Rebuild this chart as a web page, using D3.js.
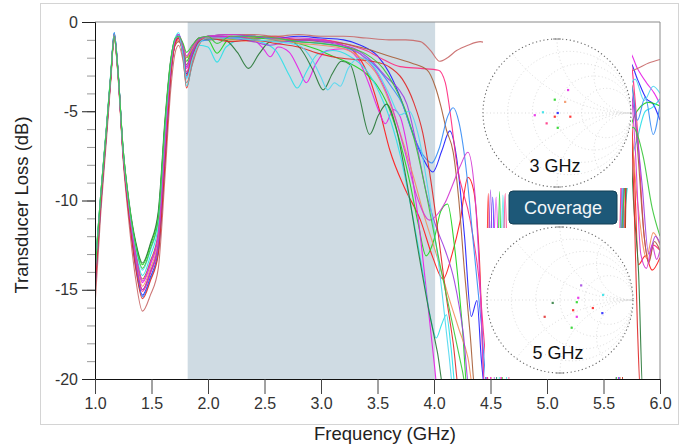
<!DOCTYPE html>
<html>
<head>
<meta charset="utf-8">
<script src="https://cdn.jsdelivr.net/npm/d3@7"></script>
<style>
body { margin: 0; background: #fff; }
text { font-family: "Liberation Sans", Arial, sans-serif; }
</style>
</head>
<body>
<script>
var width = 694,
    height = 447;

// ---- data ----
var xTicks = [1.0, 1.5, 2.0, 2.5, 3.0, 3.5, 4.0, 4.5, 5.0, 5.5, 6.0];
var yTicks = [0, -5, -10, -15, -20];
var coverageBand = [1.82, 4.01]; // GHz
var insetLabels = ["3 GHz", "5 GHz"];
var buttonLabel = "Coverage";

var seriesColors = ["#ff1a1a", "#2020ff", "#1ed41e", "#e61ee6", "#2ee0e8", "#2a7a3a", "#c96a6a", "#ff2b80",
                    "#a8603a", "#3a8ef5", "#f29060", "#a040e0", "#e02828", "#d43ad4", "#52d8f0", "#3cc83c"];

// shared frequency grid for the 1.0 - 1.92 GHz part
var lowFreqs = [1.0, 1.05, 1.1, 1.14, 1.17, 1.2, 1.25, 1.3, 1.36, 1.42, 1.49, 1.56, 1.62, 1.67, 1.71, 1.74, 1.78, 1.81, 1.86, 1.92];

var lowBand = [
  [-14.6, -10.1, -6.2, -3.0, -0.8, -2.6, -7.5, -10.6, -13.4, -15.0, -14.0, -12.5, -7.2, -2.9, -1.2, -0.9, -2.0, -3.7, -2.3, -1.2],
  [-15.2, -10.4, -6.4, -3.1, -0.6, -2.4, -7.4, -10.6, -13.6, -15.3, -14.3, -12.8, -7.6, -3.0, -1.1, -0.7, -1.6, -2.9, -1.8, -1.0],
  [-13.9, -9.7, -6.0, -2.9, -0.8, -2.5, -7.2, -10.1, -12.4, -13.6, -12.5, -10.8, -5.6, -2.2, -1.0, -0.8, -1.4, -2.2, -1.5, -0.9],
  [-14.4, -10.0, -6.1, -3.0, -0.7, -2.5, -7.4, -10.4, -13.1, -14.6, -13.6, -12.0, -6.8, -2.7, -1.2, -1.0, -1.7, -2.6, -1.7, -1.0],
  [-14.0, -9.8, -6.0, -2.8, -0.6, -2.4, -7.3, -10.3, -12.8, -14.2, -13.1, -11.4, -6.2, -2.4, -0.9, -0.6, -1.9, -3.6, -2.4, -1.3],
  [-13.8, -9.7, -6.1, -3.0, -0.9, -2.6, -7.2, -10.0, -12.3, -13.5, -12.4, -10.6, -5.4, -2.1, -1.0, -0.9, -1.3, -2.0, -1.4, -0.9],
  [-15.9, -10.8, -6.7, -3.3, -0.9, -2.7, -7.8, -11.2, -14.4, -16.2, -15.3, -13.8, -8.6, -3.8, -1.7, -1.3, -2.2, -3.4, -2.4, -1.3],
  [-14.8, -10.2, -6.3, -3.0, -0.7, -2.5, -7.5, -10.6, -13.5, -15.1, -14.1, -12.6, -7.4, -2.9, -1.1, -0.9, -1.8, -2.8, -1.9, -1.1],
  [-14.3, -9.9, -6.1, -3.0, -0.8, -2.5, -7.4, -10.4, -13.0, -14.4, -13.4, -11.8, -6.6, -2.7, -1.3, -1.1, -1.6, -2.4, -1.6, -1.0],
  [-14.9, -10.3, -6.3, -3.0, -0.6, -2.4, -7.5, -10.7, -13.7, -15.4, -14.4, -12.9, -7.7, -3.0, -1.0, -0.7, -1.8, -3.1, -2.0, -1.1],
  [-14.5, -10.0, -6.2, -3.1, -0.9, -2.7, -7.5, -10.5, -13.2, -14.8, -13.8, -12.2, -7.0, -2.8, -1.2, -1.0, -1.4, -2.0, -1.5, -1.0],
  [-14.7, -10.1, -6.2, -3.0, -0.7, -2.5, -7.5, -10.6, -13.4, -15.0, -14.0, -12.4, -7.2, -2.8, -1.1, -0.8, -1.6, -2.5, -1.7, -1.0],
  [-15.0, -10.3, -6.3, -3.1, -0.7, -2.5, -7.6, -10.8, -13.8, -15.5, -14.5, -13.0, -7.9, -3.1, -1.2, -0.9, -1.9, -3.0, -2.0, -1.1],
  [-14.2, -9.9, -6.1, -3.0, -0.8, -2.6, -7.4, -10.4, -13.0, -14.5, -13.5, -11.9, -6.7, -2.6, -1.0, -0.7, -1.3, -1.9, -1.4, -0.9],
  [-13.9, -9.7, -6.0, -2.9, -0.7, -2.5, -7.3, -10.2, -12.6, -13.9, -12.8, -11.1, -5.9, -2.3, -0.9, -0.8, -1.9, -3.2, -2.1, -1.2],
  [-14.1, -9.8, -6.1, -2.9, -0.8, -2.5, -7.2, -10.1, -12.5, -13.8, -12.7, -11.0, -5.7, -2.2, -0.9, -0.8, -1.2, -1.7, -1.3, -0.9]
];

// [GHz, dB] from 2.0 GHz on (values under -20 run off the plot)
var highBand = [
  [[2.0,-0.9],[2.2,-0.8],[2.4,-0.9],[2.6,-0.8],[2.8,-1.0],[3.0,-1.0],[3.15,-1.2],[3.3,-1.7],[3.42,-3.0],[3.52,-5.0],[3.61,-7.2],[3.74,-9.3],[3.88,-11.1],[3.99,-13.2],[4.08,-14.4],[4.16,-13.0],[4.23,-11.2],[4.3,-8.7],[4.35,-9.4],[4.4,-13],[4.45,-20.5],[4.48,-9.6],[4.51,-21],[5.66,-21],[5.72,-3.8],[5.77,-8],[5.81,-13.6],[5.87,-13.1],[5.93,-13.9],[6.0,-13.2]],
  [[2.0,-0.8],[2.2,-0.7],[2.4,-0.8],[2.6,-0.9],[2.8,-0.8],[3.0,-0.9],[3.2,-1.0],[3.35,-1.3],[3.5,-1.9],[3.6,-2.8],[3.7,-4.2],[3.8,-6.0],[3.9,-7.6],[3.99,-8.4],[4.07,-7.2],[4.14,-6.1],[4.2,-7.6],[4.27,-12],[4.33,-16.5],[4.38,-15.6],[4.42,-19],[4.46,-21],[4.52,-9.8],[4.56,-21],[5.63,-21],[5.68,-6],[5.73,-2.2],[5.8,-3.2],[5.88,-4.3],[5.94,-4.6],[6.0,-5.5]],
  [[2.0,-1.0],[2.08,-1.75],[2.18,-1.0],[2.4,-0.9],[2.6,-1.0],[2.8,-1.2],[2.95,-1.5],[3.1,-1.9],[3.25,-2.3],[3.4,-2.9],[3.5,-3.6],[3.58,-4.5],[3.68,-6.3],[3.78,-8.8],[3.86,-11.3],[3.93,-13.1],[4.0,-12.2],[4.06,-10.6],[4.12,-10.2],[4.18,-12.5],[4.25,-17],[4.3,-21],[4.55,-21],[4.58,-9.5],[4.61,-21],[5.6,-21],[5.67,-9],[5.73,-6.2],[5.82,-4.8],[5.9,-4.5],[6.0,-4.7]],
  [[2.0,-0.9],[2.2,-0.8],[2.4,-1.0],[2.49,-1.5],[2.55,-1.95],[2.62,-1.4],[2.72,-1.7],[2.8,-2.6],[2.87,-3.4],[2.95,-2.4],[3.05,-1.6],[3.2,-1.5],[3.32,-2.0],[3.42,-3.4],[3.5,-4.8],[3.57,-5.7],[3.64,-4.9],[3.7,-5.3],[3.78,-7.6],[3.86,-11],[3.94,-15.5],[4.0,-19],[4.04,-21],[4.49,-21],[4.55,-9.8],[4.6,-21],[5.6,-21],[5.66,-10],[5.7,-3],[5.73,-1.7],[5.8,-2.6],[5.88,-3.4],[5.95,-4.0],[6.0,-4.6]],
  [[2.0,-1.4],[2.08,-2.25],[2.16,-1.4],[2.3,-1.0],[2.45,-1.1],[2.6,-1.6],[2.72,-3.0],[2.79,-3.7],[2.87,-2.8],[2.97,-1.8],[3.1,-1.6],[3.25,-1.9],[3.4,-2.7],[3.52,-4.0],[3.62,-5.6],[3.71,-7.7],[3.8,-10.5],[3.9,-14.0],[3.97,-16.6],[4.02,-17.7],[4.07,-16.9],[4.11,-16.4],[4.15,-18.2],[4.2,-21],[4.57,-21],[4.61,-9.7],[4.65,-21],[5.6,-21],[5.67,-12],[5.74,-8],[5.8,-6.5],[5.87,-5],[5.93,-4.8],[6.0,-4.3]],
  [[2.0,-0.9],[2.15,-1.0],[2.26,-1.7],[2.36,-2.6],[2.45,-1.8],[2.55,-1.1],[2.7,-1.0],[2.82,-1.5],[2.93,-2.7],[3.02,-3.8],[3.1,-2.9],[3.18,-2.2],[3.26,-2.4],[3.34,-4.2],[3.43,-6.3],[3.51,-5.2],[3.58,-4.6],[3.66,-5.8],[3.76,-9.0],[3.86,-12.8],[3.95,-16],[4.03,-18.5],[4.1,-21],[5.66,-21],[5.72,-5],[5.77,-10.5],[5.81,-14],[5.85,-21],[6.0,-21]],
  [[2.0,-0.8],[2.2,-0.7],[2.4,-0.7],[2.6,-0.8],[2.8,-0.7],[3.0,-0.8],[3.2,-0.8],[3.4,-0.9],[3.6,-1.0],[3.75,-1.0],[3.88,-1.1],[3.97,-1.6],[4.05,-2.2],[4.12,-2.0],[4.2,-1.6],[4.3,-1.3],[4.41,-1.1],[4.5,-1.3],[5.72,-2.8],[5.8,-2.6],[5.9,-2.3],[6.0,-2.1]],
  [[2.0,-0.8],[2.2,-0.9],[2.4,-0.8],[2.6,-0.9],[2.8,-1.0],[3.0,-1.0],[3.2,-1.2],[3.4,-1.6],[3.55,-2.1],[3.7,-2.5],[3.88,-2.6],[4.04,-2.7],[4.1,-3.4],[4.15,-5.4],[4.2,-7.9],[4.32,-11.1],[4.4,-14.5],[4.46,-19],[4.5,-21],[4.59,-21],[4.63,-9.6],[4.67,-21],[5.6,-21],[5.68,-4],[5.73,-2.0],[5.8,-6],[5.86,-12],[5.9,-13.4],[5.94,-12.5],[6.0,-12.8]],
  [[2.0,-1.0],[2.2,-0.9],[2.4,-1.0],[2.6,-1.1],[2.8,-1.0],[3.0,-1.1],[3.2,-1.2],[3.4,-1.5],[3.6,-1.9],[3.8,-2.3],[3.94,-2.7],[4.01,-3.6],[4.06,-4.7],[4.11,-6.05],[4.17,-7.3],[4.22,-10],[4.27,-14],[4.32,-17.5],[4.37,-21],[5.62,-21],[5.7,-6],[5.75,-3.5],[5.8,-7],[5.86,-12],[5.9,-13.5],[5.95,-12.3],[6.0,-12.8]],
  [[2.0,-1.0],[2.2,-0.9],[2.4,-0.8],[2.6,-1.0],[2.8,-1.1],[3.0,-1.2],[3.2,-1.4],[3.35,-1.8],[3.5,-2.6],[3.62,-3.6],[3.72,-4.6],[3.82,-6.4],[3.92,-7.6],[3.98,-7.9],[4.05,-7.0],[4.12,-5.3],[4.17,-4.8],[4.22,-5.6],[4.28,-8.0],[4.35,-12.5],[4.42,-17],[4.48,-21],[5.63,-21],[5.7,-5],[5.74,-3.4],[5.8,-5.5],[5.87,-4.2],[5.94,-6.3],[6.0,-4.6]],
  [[2.0,-0.9],[2.2,-1.0],[2.4,-1.1],[2.6,-1.0],[2.8,-1.2],[3.0,-1.3],[3.2,-1.5],[3.35,-2.0],[3.5,-3.0],[3.6,-4.4],[3.72,-6.6],[3.82,-8.7],[3.92,-11],[4.02,-13],[4.12,-15.2],[4.22,-17.2],[4.3,-18.8],[4.36,-21],[5.64,-21],[5.72,-5],[5.8,-10],[5.88,-13.2],[5.94,-11.8],[6.0,-12.5]],
  [[2.0,-0.8],[2.2,-0.9],[2.4,-1.1],[2.55,-1.3],[2.7,-1.1],[2.9,-1.0],[3.1,-1.2],[3.3,-1.5],[3.45,-2.2],[3.58,-3.1],[3.68,-3.7],[3.76,-4.6],[3.85,-7],[3.94,-9.8],[4.02,-11.5],[4.1,-12.8],[4.18,-14.5],[4.26,-17.5],[4.32,-21],[4.46,-21],[4.5,-9.4],[4.54,-21],[5.62,-21],[5.7,-3],[5.76,-4.5],[5.84,-9],[5.9,-13],[5.96,-12],[6.0,-12.4]],
  [[2.0,-0.9],[2.2,-1.1],[2.4,-1.0],[2.6,-1.2],[2.8,-1.4],[3.0,-1.8],[3.15,-2.0],[3.3,-2.1],[3.45,-2.2],[3.6,-2.5],[3.72,-3.2],[3.82,-4.5],[3.9,-6.2],[3.97,-8.8],[4.04,-12],[4.1,-15],[4.17,-18],[4.23,-21],[5.66,-21],[5.72,-3],[5.77,-10],[5.8,-17],[5.83,-21],[6.0,-21]],
  [[2.0,-0.8],[2.2,-0.7],[2.4,-0.8],[2.6,-0.9],[2.8,-0.9],[3.0,-1.0],[3.2,-1.3],[3.35,-1.8],[3.5,-2.9],[3.62,-4.6],[3.74,-7.2],[3.85,-9.8],[3.96,-11.1],[4.04,-10.7],[4.1,-10.1],[4.16,-9.2],[4.23,-8.1],[4.3,-7.3],[4.36,-9.5],[4.41,-15],[4.45,-21],[5.62,-21],[5.68,-8],[5.73,-3.2],[5.78,-7],[5.83,-13],[5.88,-13.8],[5.93,-12.5],[5.97,-13.3],[6.0,-12.8]],
  [[2.0,-0.9],[2.2,-0.9],[2.4,-1.0],[2.6,-1.1],[2.8,-1.3],[2.93,-2.2],[3.0,-3.1],[3.06,-3.8],[3.12,-3.4],[3.17,-3.6],[3.24,-2.6],[3.35,-2.0],[3.48,-2.6],[3.6,-4.0],[3.7,-5.2],[3.78,-5.0],[3.86,-6.3],[3.95,-9.5],[4.05,-14],[4.13,-18.5],[4.18,-21],[5.6,-21],[5.66,-10.5],[5.72,-4],[5.78,-3.2],[5.86,-4.4],[5.94,-3.6],[6.0,-4.0]],
  [[2.0,-0.8],[2.08,-1.2],[2.2,-0.8],[2.4,-0.8],[2.6,-0.9],[2.8,-1.1],[3.0,-1.2],[3.2,-1.4],[3.4,-1.8],[3.55,-2.6],[3.65,-3.6],[3.75,-5.0],[3.85,-7.2],[3.95,-10.2],[4.05,-13.5],[4.15,-16.5],[4.25,-19.5],[4.3,-21],[5.6,-21],[5.66,-12],[5.72,-7],[5.76,-5.9],[5.85,-7.5],[5.93,-10.4],[6.0,-12]]
];

// Smith chart markers: [re, im, colour index]
var smith3Points = [[0.15,0.31,3],[-0.03,0.18,2],[0.11,0.15,10],[-0.19,0.01,4],[-0.30,-0.03,3],[0.01,0.0,1],
                    [-0.03,-0.05,0],[0.18,-0.05,0],[-0.14,-0.14,7],[0.01,-0.20,2]];
var smith5Points = [[0.25,0.03,3],[0.23,-0.03,2],[-0.10,-0.04,5],[0.59,0.07,4],[0.18,-0.14,0],[0.45,-0.11,0],
                    [0.23,-0.23,3],[0.16,-0.38,2],[-0.21,-0.23,12],[0.58,-0.18,1],[0.29,0.20,11]];

// ---- layout ----
var x = d3.scaleLinear().domain([1, 6]).range([95, 660]);
var y = d3.scaleLinear().domain([-20, 0]).range([379, 22]);

var svg = d3.select("body")
  .append("svg")
  .attr("width", width)
  .attr("height", height);

// outer frame
svg.append("rect")
  .attr("x", 40.5).attr("y", 3.5)
  .attr("width", 638).attr("height", 421)
  .attr("fill", "none")
  .attr("stroke", "#d4d4d4");

svg.append("defs").append("clipPath")
    .attr("id", "plotclip")
  .append("rect")
    .attr("x", 95).attr("y", 22)
    .attr("width", 565).attr("height", 357);

// coverage band
svg.append("rect")
  .attr("x", x(coverageBand[0]))
  .attr("y", y(0))
  .attr("width", x(coverageBand[1]) - x(coverageBand[0]))
  .attr("height", y(-20) - y(0))
  .attr("fill", "#cfdbe3");

var series = lowBand.map(function(row, k) {
  return lowFreqs.map(function(f, i) { return [f, row[i]]; }).concat(highBand[k]);
});

var line = d3.line()
  .x(function(d) { return x(d[0]); })
  .y(function(d) { return y(d[1]); })
  .curve(d3.curveMonotoneX);

svg.append("g")
    .attr("clip-path", "url(#plotclip)")
  .selectAll("path")
  .data(series)
  .enter().append("path")
    .attr("d", line)
    .attr("fill", "none")
    .attr("stroke", function(d, i) { return seriesColors[i]; })
    .attr("stroke-width", 1.1)
    .attr("stroke-opacity", 0.92);

// white inset boxes over the curves
var insets = [
  {box: [483, 24, 149, 164], cx: 557, cy: 113, r: 74, pts: smith3Points, label: insetLabels[0], ly: 172},
  {box: [485, 228, 147, 149], cx: 560, cy: 300, r: 73, pts: smith5Points, label: insetLabels[1], ly: 359}
];

insets.forEach(function(ins, n) {
  svg.append("rect")
    .attr("x", ins.box[0]).attr("y", ins.box[1])
    .attr("width", ins.box[2]).attr("height", ins.box[3])
    .attr("fill", "#fff");

  var sx = d3.scaleLinear().domain([-1, 1]).range([ins.cx - ins.r, ins.cx + ins.r]);
  var sy = d3.scaleLinear().domain([-1, 1]).range([ins.cy + ins.r, ins.cy - ins.r]);
  var k = ins.r;

  svg.select("defs").append("clipPath")
      .attr("id", "smith" + n)
    .append("circle")
      .attr("cx", ins.cx).attr("cy", ins.cy).attr("r", ins.r);

  var g = svg.append("g").attr("clip-path", "url(#smith" + n + ")");

  // constant resistance circles
  [0.2, 0.5, 1, 2].forEach(function(rr) {
    g.append("circle")
      .attr("cx", sx(rr / (1 + rr))).attr("cy", sy(0))
      .attr("r", k / (1 + rr))
      .attr("fill", "none").attr("stroke", "#d2d2d2")
      .attr("stroke-width", 0.8).attr("stroke-dasharray", "1 2.5");
  });
  // constant reactance arcs
  [0.5, 1, 2, -0.5, -1, -2].forEach(function(xx) {
    g.append("circle")
      .attr("cx", sx(1)).attr("cy", sy(1 / xx))
      .attr("r", k / Math.abs(xx))
      .attr("fill", "none").attr("stroke", "#d2d2d2")
      .attr("stroke-width", 0.8).attr("stroke-dasharray", "1 2.5");
  });
  g.append("line")
    .attr("x1", sx(-1)).attr("x2", sx(1))
    .attr("y1", sy(0)).attr("y2", sy(0))
    .attr("stroke", "#d2d2d2").attr("stroke-width", 0.8)
    .attr("stroke-dasharray", "1 2.5");

  // outer rim
  svg.append("circle")
    .attr("cx", ins.cx).attr("cy", ins.cy).attr("r", ins.r)
    .attr("fill", "none").attr("stroke", "#666")
    .attr("stroke-width", 1.1).attr("stroke-dasharray", "1.2 2.6");

  // small marks top and bottom
  [-1, 1].forEach(function(s) {
    svg.append("line")
      .attr("x1", ins.cx - 4).attr("x2", ins.cx + 4)
      .attr("y1", ins.cy + s * ins.r).attr("y2", ins.cy + s * ins.r)
      .attr("stroke", "#888").attr("stroke-width", 1);
  });

  svg.append("g").selectAll("rect")
    .data(ins.pts)
    .enter().append("rect")
      .attr("x", function(d) { return sx(d[0]) - 1.1; })
      .attr("y", function(d) { return sy(d[1]) - 1.1; })
      .attr("width", 2.2).attr("height", 2.2)
      .attr("fill", function(d) { return seriesColors[d[2]]; })
      .attr("fill-opacity", 0.85);

  svg.append("text")
    .attr("x", ins.cx - 2).attr("y", ins.ly)
    .attr("text-anchor", "middle")
    .attr("font-size", 18)
    .attr("fill", "#111")
    .text(ins.label);
});

// coverage button
svg.append("rect")
  .attr("x", 509).attr("y", 191)
  .attr("width", 108).attr("height", 33)
  .attr("rx", 4)
  .attr("fill", "#1d5878")
  .attr("stroke", "#123e55");
svg.append("text")
  .attr("x", 563).attr("y", 214)
  .attr("text-anchor", "middle")
  .attr("font-size", 18)
  .attr("fill", "#f2f6f8")
  .text(buttonLabel);

// plot border top / right
svg.append("line")
  .attr("x1", 95).attr("x2", 660).attr("y1", 22).attr("y2", 22)
  .attr("stroke", "#8a8a8a");
svg.append("line")
  .attr("x1", 660).attr("x2", 660).attr("y1", 22).attr("y2", 379)
  .attr("stroke", "#8a8a8a");

// axes
var yMinor = svg.append("g")
  .attr("transform", "translate(95,0)")
  .call(d3.axisLeft(y).tickValues(d3.range(-20, 1, 1)).tickSize(8).tickFormat(""));
yMinor.select(".domain").remove();
yMinor.selectAll("line").attr("stroke", "#9a9a9a");

var yAxis = svg.append("g")
  .attr("transform", "translate(95,0)")
  .call(d3.axisLeft(y).tickValues(yTicks).tickSize(13).tickPadding(4)
    .tickFormat(function(d) { return String(d); }));
yAxis.select(".domain").attr("stroke", "#111");
yAxis.selectAll("line").attr("stroke", "#222");
yAxis.selectAll("text")
  .attr("font-size", 16)
  .attr("fill", "#333")
  .attr("font-family", "Liberation Sans, Arial, sans-serif");

var xAxis = svg.append("g")
  .attr("transform", "translate(0,379)")
  .call(d3.axisBottom(x).tickValues(xTicks).tickSize(15).tickPadding(4).tickFormat(d3.format(".1f")));
xAxis.select(".domain").attr("stroke", "#111");
xAxis.selectAll("line").attr("stroke", "#444");
xAxis.selectAll("text")
  .attr("font-size", 16)
  .attr("fill", "#333")
  .attr("font-family", "Liberation Sans, Arial, sans-serif");

// axis titles
svg.append("text")
  .attr("transform", "translate(28,205) rotate(-90)")
  .attr("text-anchor", "middle")
  .attr("font-size", 18.5)
  .attr("fill", "#222")
  .text("Transducer Loss (dB)");

svg.append("text")
  .attr("x", 385).attr("y", 440)
  .attr("text-anchor", "middle")
  .attr("font-size", 18.5)
  .attr("fill", "#222")
  .text("Frequency (GHz)");
</script>
</body>
</html>
